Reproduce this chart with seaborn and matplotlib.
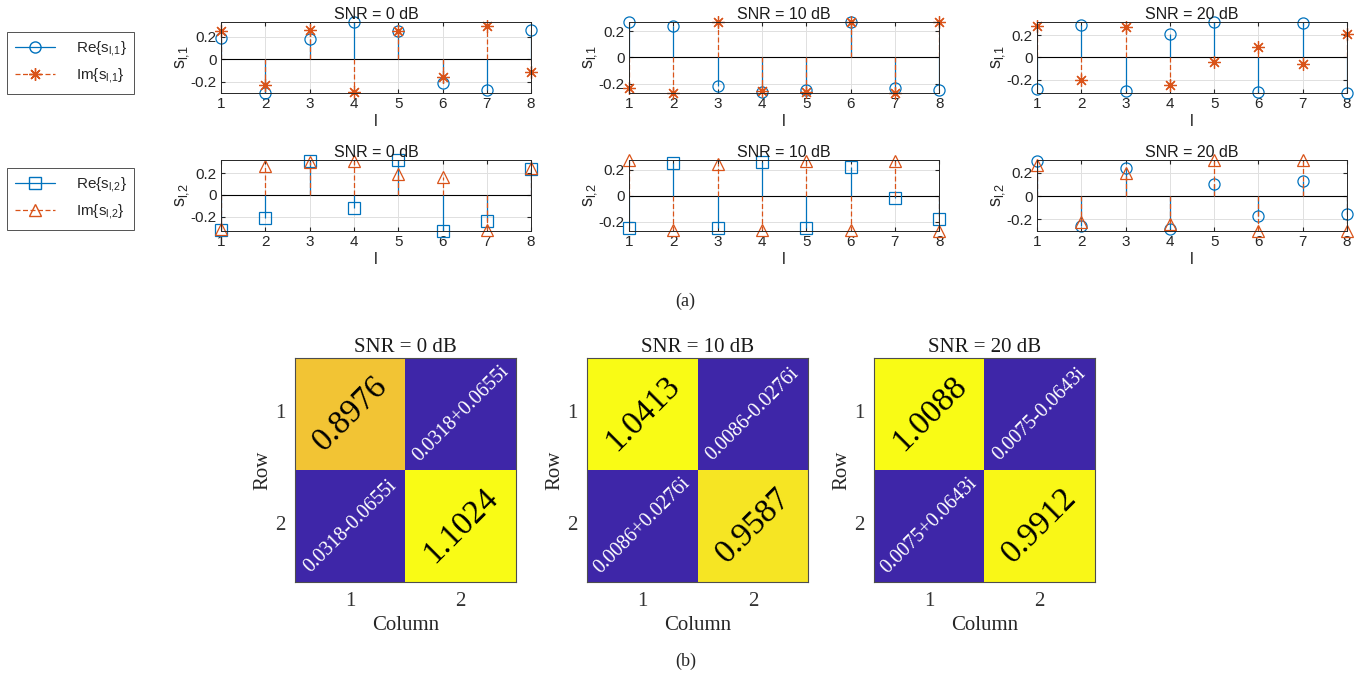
import numpy as np
import matplotlib
matplotlib.use('Agg')
from matplotlib import pyplot as plt
from matplotlib.colors import LinearSegmentedColormap
from matplotlib.lines import Line2D
from matplotlib.legend_handler import HandlerLine2D
import seaborn as sns

# ---------------- data ----------------
l_vals = [1, 2, 3, 4, 5, 6, 7, 8]
snr_titles = ['SNR = 0 dB', 'SNR = 10 dB', 'SNR = 20 dB']

# rows: SNR 0, 10, 20 dB
re_s1 = [[0.19, -0.30, 0.18, 0.33, 0.25, -0.21, -0.27, 0.26],
         [0.27, 0.24, -0.22, -0.26, -0.25, 0.27, -0.23, -0.25],
         [-0.28, 0.29, -0.30, 0.21, 0.32, -0.31, 0.31, -0.32]]
im_s1 = [[0.25, -0.23, 0.26, -0.29, 0.25, -0.16, 0.29, -0.115],
         [-0.23, -0.27, 0.27, -0.255, -0.26, 0.27, -0.27, 0.27],
         [0.28, -0.20, 0.27, -0.25, -0.04, 0.09, -0.06, 0.21]]
re_s2 = [[-0.32, -0.21, 0.31, -0.12, 0.32, -0.33, -0.24, 0.24],
         [-0.25, 0.255, -0.25, 0.26, -0.25, 0.22, -0.015, -0.18],
         [0.30, -0.26, 0.24, -0.28, 0.105, -0.17, 0.125, -0.155]]
im_s2 = [[-0.31, 0.26, 0.30, 0.31, 0.19, 0.16, -0.32, 0.25],
         [0.275, -0.26, 0.24, -0.26, 0.27, -0.26, 0.27, -0.27],
         [0.27, -0.22, 0.20, -0.24, 0.31, -0.30, 0.31, -0.30]]

# sample correlation matrices
R_0dB = [[0.8976, 0.0318 + 0.0655j], [0.0318 - 0.0655j, 1.1024]]
R_10dB = [[1.0413, 0.0086 - 0.0276j], [0.0086 + 0.0276j, 0.9587]]
R_20dB = [[1.0088, 0.0075 - 0.0643j], [0.0075 + 0.0643j, 0.9912]]
hm_ticks = ['1', '2']

# ---------------- style ----------------
sns.set_style('white')
plt.rcParams['font.family'] = ['Liberation Sans', 'DejaVu Sans']
plt.rcParams['axes.unicode_minus'] = False
plt.rcParams['mathtext.fontset'] = 'custom'
plt.rcParams['mathtext.rm'] = 'Liberation Sans'

blue = '#0072BD'
orange = '#D95319'
serif = ['Liberation Serif', 'DejaVu Serif']
asterisk = (8, 2, 0)  # MATLAB '*' = plus + cross

parula = LinearSegmentedColormap.from_list('parula_like', [
    (0.0, (0.2422, 0.1504, 0.6603)),
    (0.125, (0.2780, 0.3556, 0.9777)),
    (0.25, (0.1540, 0.5902, 0.9218)),
    (0.375, (0.0704, 0.7457, 0.7258)),
    (0.5, (0.4420, 0.7481, 0.4033)),
    (0.625, (0.7818, 0.7525, 0.2465)),
    (0.75, (0.9400, 0.7100, 0.2300)),
    (0.875, (0.9598, 0.8500, 0.1685)),
    (1.0, (0.9769, 0.9839, 0.0805))])


class StemHandler(HandlerLine2D):
    # line with the marker at its right end, like the MATLAB stem legend
    def get_xdata(self, legend, xdescent, ydescent, width, height, fontsize):
        x_end = -xdescent + width * 0.92
        return np.array([-xdescent, x_end]), np.array([x_end])


fig = plt.figure(figsize=(13.72, 6.77), dpi=100)

# ---------------- (a) stem plots ----------------
stem_lefts = [0.1611, 0.4585, 0.7558]
stem_bottoms = [0.8626, 0.6588]
stem_w, stem_h = 0.226, 0.105

rows = [(re_s1, im_s1, ['o', 'o', 'o'], asterisk, 'l{,}1'),
        (re_s2, im_s2, ['s', 's', 'o'], '^', 'l{,}2')]

for r, (re_all, im_all, re_mk, im_mk, sub) in enumerate(rows):
    for c in range(3):
        ax = fig.add_axes([stem_lefts[c], stem_bottoms[r], stem_w, stem_h])
        ax.axhline(0, color='k', lw=0.8, zorder=1)
        for vals, col, ls, mk in [(re_all[c], blue, '-', re_mk[c]),
                                  (im_all[c], orange, (0, (4, 2)), im_mk)]:
            markerline, stemlines, baseline = ax.stem(l_vals, vals, basefmt=' ')
            stemlines.set_color(col)
            stemlines.set_linestyle(ls)
            stemlines.set_linewidth(0.9)
            markerline.set(marker=mk, markerfacecolor='none', markeredgecolor=col,
                           markersize=8 if mk != asterisk else 9, linestyle='none',
                           clip_on=False, markeredgewidth=0.9)
        all_vals = list(re_all[c]) + list(im_all[c])
        ax.set_xlim(1, 8)
        ax.set_ylim(min(all_vals), max(all_vals))
        ax.set_xticks(l_vals)
        ax.set_yticks([-0.2, 0, 0.2])
        ax.set_yticklabels(['-0.2', '0', '0.2'])
        ax.tick_params(direction='in', length=3, labelsize=11, top=True, right=True,
                       bottom=True, left=True, colors='0.15', pad=3)
        ax.grid(True, color='0.88', lw=0.7)
        ax.set_axisbelow(True)
        for sp in ax.spines.values():
            sp.set_visible(True)
            sp.set_color('0.15')
            sp.set_linewidth(0.7)
        ax.set_title(snr_titles[c], fontsize=11.5, pad=2, color='0.1')
        ax.set_xlabel('l', fontsize=11.5, labelpad=2, color='0.15')
        ax.set_ylabel(r's$_{\mathregular{' + sub + '}}$', fontsize=13, labelpad=0, color='0.15')

    h_re = Line2D([], [], color=blue, lw=0.9, marker='o' if r == 0 else 's',
                  markerfacecolor='none', markeredgecolor=blue, markersize=8)
    h_im = Line2D([], [], color=orange, lw=0.9, ls=(0, (4, 2)), marker=im_mk,
                  markerfacecolor='none', markeredgecolor=orange, markersize=9)
    leg = fig.legend(handles=[h_re, h_im],
                     labels=[r'Re{s$_{\mathregular{' + sub + '}}$}',
                             r'Im{s$_{\mathregular{' + sub + '}}$}'],
                     loc='upper left',
                     bbox_to_anchor=(0.0051, [0.9527, 0.7518][r]),
                     borderaxespad=0, frameon=True, fancybox=False,
                     edgecolor='0.15', fontsize=11, handlelength=2.9,
                     handletextpad=1.1, borderpad=0.5, labelspacing=0.5,
                     handler_map={Line2D: StemHandler(numpoints=1)})
    leg.get_frame().set_linewidth(0.7)

fig.text(685 / 1372, 1 - 301 / 677, '(a)', ha='center', va='center',
         family=serif, fontsize=13)

# ---------------- (b) heatmaps ----------------
hm_lefts = [0.215, 0.428, 0.637]
hm_bottom, hm_w, hm_h = 0.1403, 0.161, 0.331

for c, R in enumerate([R_0dB, R_10dB, R_20dB]):
    R = np.array(R, dtype=complex)
    mag = np.abs(R)
    labels = np.empty(R.shape, dtype=object)
    for i in range(2):
        for j in range(2):
            if i == j:
                labels[i, j] = '{:.4f}'.format(R[i, j].real)
            else:
                labels[i, j] = '{:.4f}{:+.4f}i'.format(R[i, j].real, R[i, j].imag)
    ax = fig.add_axes([hm_lefts[c], hm_bottom, hm_w, hm_h])
    sns.heatmap(mag, ax=ax, cmap=parula, vmin=mag.min(), vmax=mag.max(),
                annot=labels, fmt='', cbar=False,
                xticklabels=hm_ticks, yticklabels=hm_ticks,
                annot_kws={'rotation': 45, 'family': serif})
    for t in ax.texts:
        if t.get_text().endswith('i'):
            t.set_fontsize(14.5)
            t.set_color('white')
        else:
            t.set_fontsize(24)
            t.set_color('black')
    for sp in ax.spines.values():
        sp.set_visible(True)
        sp.set_color('0.3')
        sp.set_linewidth(0.8)
    ax.tick_params(direction='in', length=4, top=True, right=True, bottom=True,
                   left=True, colors='0.2', labelsize=15, pad=7)
    ax.set_yticklabels(hm_ticks, rotation=0, family=serif)
    ax.set_xticklabels(hm_ticks, family=serif)
    ax.set_title(snr_titles[c], family=serif, fontsize=15, pad=4, color='0.1')
    ax.set_xlabel('Column', family=serif, fontsize=15, labelpad=4, color='0.15')
    ax.set_ylabel('Row', family=serif, fontsize=15, labelpad=2, color='0.15')

fig.text(686 / 1372, 1 - 661 / 677, '(b)', ha='center', va='center',
         family=serif, fontsize=13)

fig.savefig('out.png', dpi=100)
